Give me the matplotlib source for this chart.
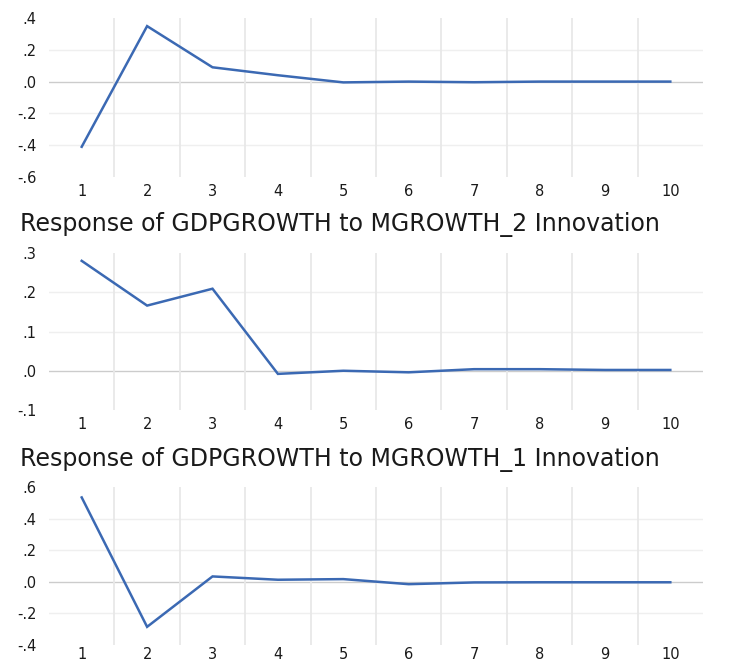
import numpy as np
import matplotlib
matplotlib.use("Agg")
import matplotlib.pyplot as plt

periods = [1, 2, 3, 4, 5, 6, 7, 8, 9, 10]

# panel 1 (title cut off at top of the screenshot)
resp_top = [-0.41, 0.349, 0.09, 0.04, -0.005, 0.0, -0.004, 0.0, 0.0, 0.0]
# response to MGROWTH_2
resp_m2 = [0.28, 0.166, 0.209, -0.008, 0.0, -0.004, 0.004, 0.004, 0.002, 0.002]
# response to MGROWTH_1
resp_m1 = [0.534, -0.285, 0.034, 0.013, 0.017, -0.015, -0.004, -0.003, -0.003, -0.003]

titles = [None,
          "Response of GDPGROWTH to MGROWTH_2 Innovation",
          "Response of GDPGROWTH to MGROWTH_1 Innovation"]
ylims = [(-0.6, 0.4), (-0.1, 0.3), (-0.4, 0.6)]
ystep = [0.2, 0.1, 0.2]
series = [resp_top, resp_m2, resp_m1]

# pixel layout of the screenshot (top, bottom of each plot area)
W, H = 733, 662
boxes = [(18, 177), (253, 410), (487, 645)]
title_y = [None, 224, 460]
xlab_pad = [5, 5, 1.5]
left_px, right_px = 49, 703

line_color = "#3b69b3"

def fmt(v):
    s = "%.1f" % v
    if s.startswith("0"):
        s = s[1:]
    elif s.startswith("-0"):
        s = "-" + s[2:]
    return s

fig = plt.figure(figsize=(W / 100, H / 100), dpi=100)

for i in range(3):
    top, bot = boxes[i]
    ax = fig.add_axes([left_px / W, 1 - bot / H, (right_px - left_px) / W, (bot - top) / H])
    ax.plot(periods, series[i], color=line_color, lw=1.8, solid_joinstyle="miter")
    ax.set_xlim(0.5, 10.5)
    lo, hi = ylims[i]
    ax.set_ylim(lo, hi)
    yt = np.round(np.arange(lo, hi + 1e-9, ystep[i]), 2)
    ax.set_yticks(yt)
    ax.set_yticklabels([fmt(v) for v in yt])
    ax.set_xticks(periods)
    ax.set_xticks(np.arange(1.5, 10, 1), minor=True)
    for s in ax.spines.values():
        s.set_visible(False)
    ax.tick_params(which="both", length=0)
    ax.tick_params(axis="y", pad=9, labelsize=10.5, labelcolor="#1a1a1a")
    ax.tick_params(axis="x", pad=xlab_pad[i], labelsize=10.5, labelcolor="#1a1a1a")
    ax.grid(which="minor", axis="x", color="#e8e8e8", lw=1.3)
    for v in yt:
        if lo < v < hi:
            if abs(v) < 1e-9:
                ax.axhline(v, color="#cccccc", lw=1.0, zorder=1)
            else:
                ax.axhline(v, color="#efefef", lw=1.0, zorder=1)
    if titles[i]:
        fig.text(20 / W, 1 - title_y[i] / H, titles[i], fontsize=17,
                 ha="left", va="center", color="#1a1a1a")

fig.savefig("out.png", dpi=100)
